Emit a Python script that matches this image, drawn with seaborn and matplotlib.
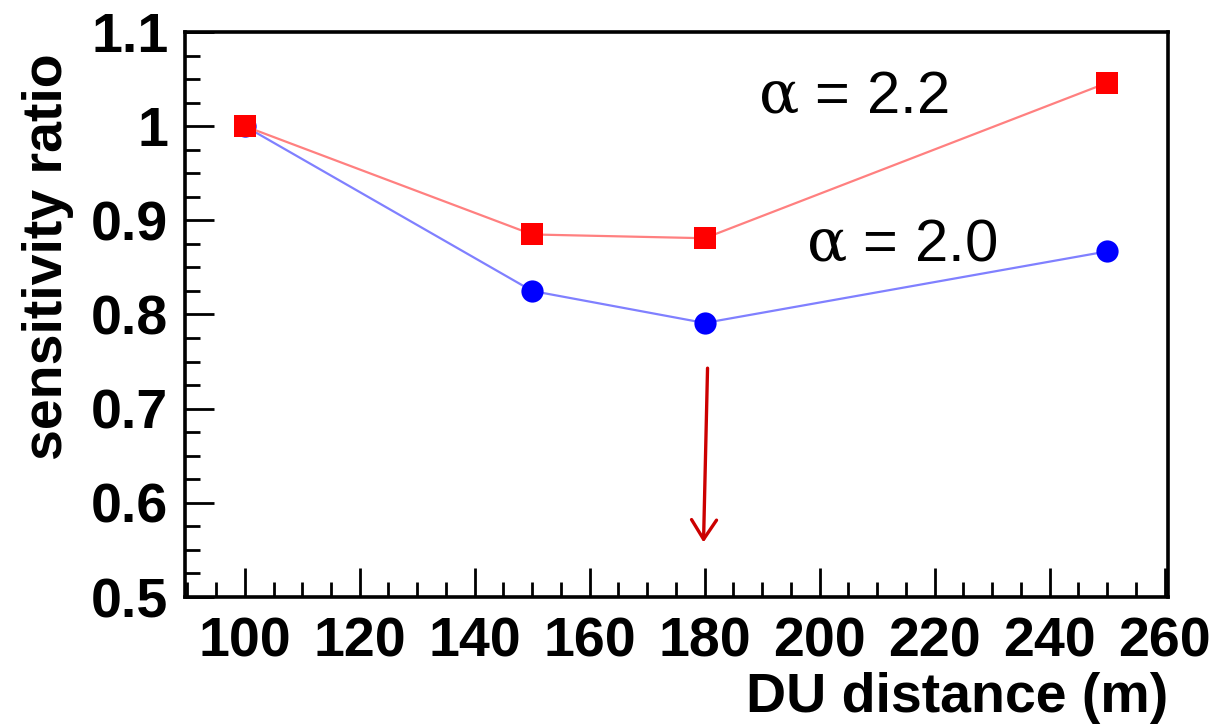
import matplotlib
matplotlib.use("Agg")
import matplotlib.pyplot as plt
from matplotlib.ticker import MultipleLocator
import seaborn as sns
import pandas as pd

# ---- data ----
distance = [100, 150, 180, 250]
ratio_a22 = [1.000, 0.885, 0.881, 1.046]
ratio_a20 = [1.000, 0.825, 0.791, 0.867]
label_a22 = r"$\mathrm{α}$ = 2.2"
label_a20 = r"$\mathrm{α}$ = 2.0"
x_ticks = [100, 120, 140, 160, 180, 200, 220, 240, 260]
y_ticks = [0.5, 0.6, 0.7, 0.8, 0.9, 1.0, 1.1]
y_tick_labels = ["0.5", "0.6", "0.7", "0.8", "0.9", "1", "1.1"]
arrow_start = (180.5, 0.743)
arrow_end = (179.8, 0.558)

sns.set_theme(style="white")
plt.rcParams["font.family"] = ["Liberation Sans", "DejaVu Sans"]
plt.rcParams["mathtext.fontset"] = "custom"
plt.rcParams["mathtext.rm"] = "DejaVu Serif"
plt.rcParams["text.color"] = "black"
plt.rcParams["axes.labelcolor"] = "black"
plt.rcParams["xtick.color"] = "black"
plt.rcParams["ytick.color"] = "black"

fig = plt.figure(figsize=(12.24, 7.24), dpi=100)
ax = fig.add_axes([185/1224, 1-597/724, (1168-185)/1224, (597-32)/724])

df20 = pd.DataFrame({"x": distance, "y": ratio_a20})
df22 = pd.DataFrame({"x": distance, "y": ratio_a22})

sns.lineplot(data=df20, x="x", y="y", ax=ax, color="#8080ff", lw=1.6,
             marker="o", markersize=16, markerfacecolor="#0000ff",
             markeredgecolor="#0000ff", markeredgewidth=0, zorder=3)
sns.lineplot(data=df22, x="x", y="y", ax=ax, color="#ff8080", lw=1.6,
             marker="s", markersize=16, markerfacecolor="#ff0000",
             markeredgecolor="#ff0000", markeredgewidth=0, zorder=4)

ax.set_xlim(89.6, 260.6)
ax.set_ylim(0.5, 1.1)
ax.set_xticks(x_ticks)
ax.set_xticklabels([str(v) for v in x_ticks])
ax.set_yticks(y_ticks)
ax.set_yticklabels(y_tick_labels)
ax.xaxis.set_minor_locator(MultipleLocator(5))
ax.yaxis.set_minor_locator(MultipleLocator(0.025))

ax.tick_params(axis="both", which="major", direction="in", length=21, width=2.0,
               labelsize=40, color="black", labelcolor="black", top=False, right=False,
               bottom=True, left=True)
ax.tick_params(axis="both", which="minor", direction="in", length=11, width=2.0,
               color="black", top=False, right=False, bottom=True, left=True)
ax.tick_params(axis="x", which="major", pad=14)
ax.tick_params(axis="y", which="major", pad=12)
for lab in ax.get_xticklabels() + ax.get_yticklabels():
    lab.set_fontweight("bold")

for s in ax.spines.values():
    s.set_visible(True)
    s.set_linewidth(2.6)
    s.set_color("black")

ax.set_xlabel("DU distance (m)", fontsize=40, fontweight="bold", ha="right", va="baseline",
              color="black")
ax.xaxis.set_label_coords(1.0, (597-712)/565)
ax.set_ylabel("sensitivity ratio", fontsize=40, fontweight="bold", ha="center", va="center",
              color="black")
ax.yaxis.set_label_coords((48-185)/983, (597-257)/565)

ax.text(189.2, 1.030, label_a22, fontsize=43, ha="left", va="center", color="black")
ax.text(197.7, 0.873, label_a20, fontsize=43, ha="left", va="center", color="black")

ax.annotate("", xy=arrow_end, xytext=arrow_start,
            arrowprops=dict(arrowstyle="->,head_length=0.7,head_width=0.45",
                            color="#cc0000", lw=2.4, mutation_scale=20,
                            shrinkA=0, shrinkB=0))

fig.savefig("out.png", dpi=100, facecolor="white")
